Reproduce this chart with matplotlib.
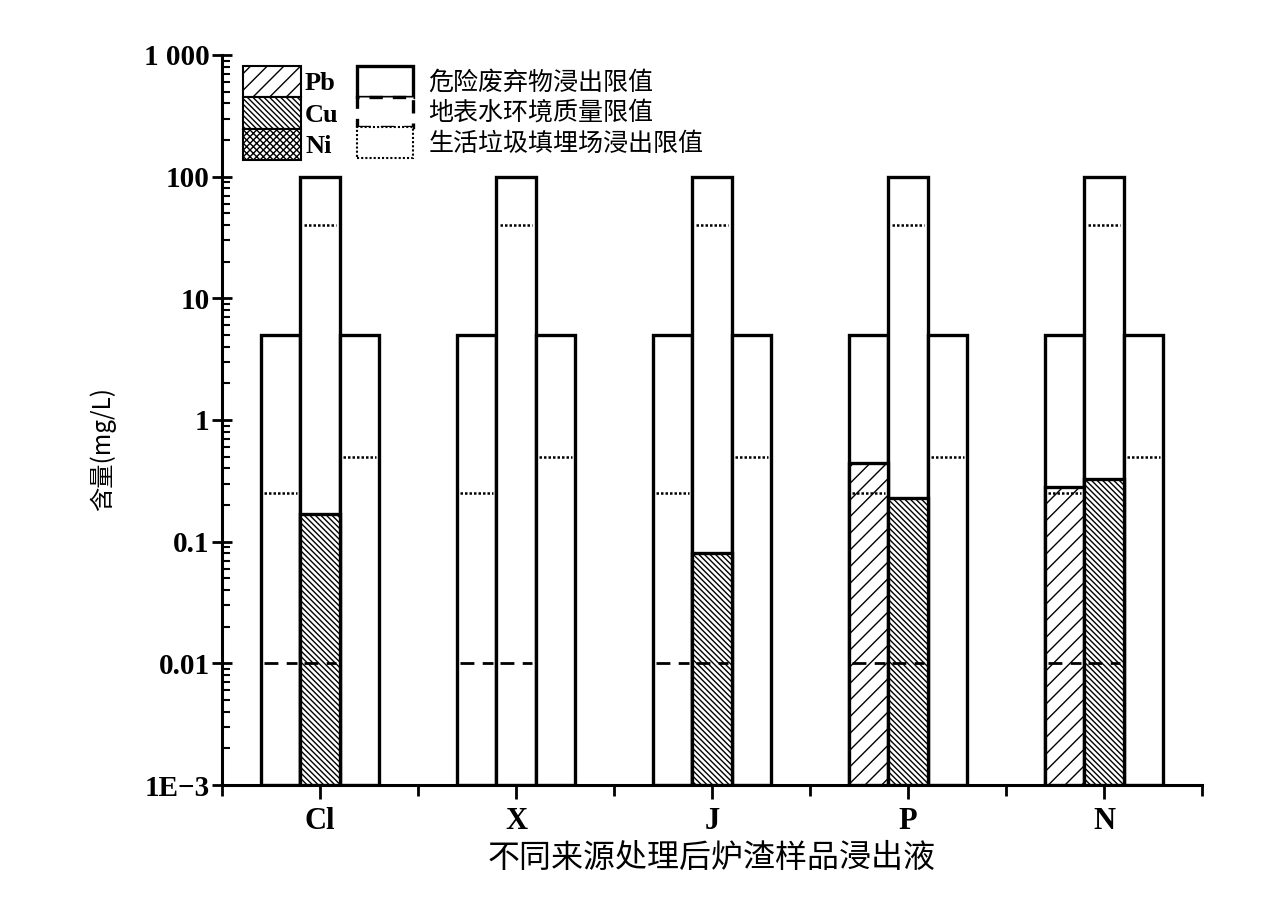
import numpy as np
import matplotlib
matplotlib.use("Agg")
import matplotlib.pyplot as plt
from matplotlib.patches import Patch
from matplotlib.ticker import FixedLocator, FixedFormatter, LogLocator, NullFormatter

# Leachate samples and measured heavy-metal concentrations (mg/L); 0 = not detected
samples = ["Cl", "X", "J", "P", "N"]
metals = ["Pb", "Cu", "Ni"]
pb_values = [0, 0, 0, 0.44, 0.28]
cu_values = [0.17, 0, 0.08, 0.23, 0.33]
ni_values = [0, 0, 0, 0, 0]

# Regulatory limits per metal (Pb, Cu, Ni); None = no limit drawn
hazard_limits = [5, 100, 5]          # 危险废弃物浸出限值
surface_limits = [0.01, 0.01, None]  # 地表水环境质量限值
landfill_limits = [0.25, 40, 0.5]    # 生活垃圾填埋场浸出限值

hatches = ["//", "\\\\\\\\\\\\", "xxxxx"]

y_ticks = [1e-3, 1e-2, 1e-1, 1, 10, 100, 1000]
y_tick_labels = ["1E\u22123", "0.01", "0.1", "1", "10", "100", "1 000"]

plt.rcParams["hatch.linewidth"] = 1.0
cjk = ["Noto Sans CJK SC", "DejaVu Sans"]

fig = plt.figure(figsize=(12.81, 9.01), dpi=100)
ax = fig.add_axes([222 / 1281, 1 - 785 / 901, 980 / 1281, 730 / 901])

x = np.arange(1, len(samples) + 1)
width = 0.2
offsets = [-width, 0, width]
base = 1e-3
values = [pb_values, cu_values, ni_values]

for j in range(3):
    xpos = x + offsets[j]
    # limit outline bars
    ax.bar(xpos, [hazard_limits[j] - base] * len(x), width=width, bottom=base,
           facecolor="white", edgecolor="black", linewidth=2.4, zorder=2)
for j in range(3):
    xpos = x + offsets[j]
    vals = np.array(values[j], dtype=float)
    mask = vals > 0
    if mask.any():
        ax.bar(xpos[mask], vals[mask] - base, width=width, bottom=base,
               facecolor="white", edgecolor="black", hatch=hatches[j],
               linewidth=2.4, zorder=3)
for j in range(3):
    xpos = x + offsets[j]
    half = width * 0.42
    if surface_limits[j] is not None:
        ax.hlines([surface_limits[j]] * len(x), xpos - half, xpos + half,
                  colors="black", linestyles=(0, (5, 3)), linewidth=2.0, zorder=4)
    ax.hlines([landfill_limits[j]] * len(x), xpos - half, xpos + half,
              colors="black", linestyles=(0, (1, 0.8)), linewidth=1.8, zorder=4)

ax.set_yscale("log")
ax.set_ylim(1e-3, 1000)
ax.set_xlim(0.5, 5.5)

ax.yaxis.set_major_locator(FixedLocator(y_ticks))
ax.yaxis.set_major_formatter(FixedFormatter(y_tick_labels))
ax.yaxis.set_minor_locator(LogLocator(base=10, subs=np.arange(2, 10), numticks=20))
ax.yaxis.set_minor_formatter(NullFormatter())

ax.set_xticks(x)
ax.set_xticklabels(samples)
ax.set_xticks(np.arange(0.5, 6.0, 1.0), minor=True)

for s in ["top", "right"]:
    ax.spines[s].set_visible(False)
for s in ["left", "bottom"]:
    ax.spines[s].set_linewidth(2.2)

ax.tick_params(axis="y", which="major", direction="inout", length=14, width=2, pad=2)
ax.tick_params(axis="y", which="minor", direction="in", length=6, width=1.5)
ax.tick_params(axis="x", which="major", direction="out", length=10, width=2, pad=6)
ax.tick_params(axis="x", which="minor", direction="out", length=8, width=2)

for lab in ax.get_yticklabels():
    lab.set_fontfamily("Liberation Serif")
    lab.set_fontweight("bold")
    lab.set_fontsize(21)
for lab in ax.get_xticklabels():
    lab.set_fontfamily("Liberation Serif")
    lab.set_fontweight("bold")
    lab.set_fontsize(22)

ax.set_xlabel("不同来源处理后炉渣样品浸出液", family=cjk, fontsize=23, labelpad=4)
ax.set_ylabel("含量(mg/L)", family=cjk, fontsize=17.5)
ax.yaxis.set_label_coords(-0.108, 0.46)

# Metal hatch legend
metal_handles = [Patch(facecolor="white", edgecolor="black", hatch=h, linewidth=1.5)
                 for h in hatches]
leg1 = fig.legend(metal_handles, metals, loc="upper left",
                  bbox_to_anchor=(243 / 1281, 1 - 66 / 901),
                  frameon=False, borderpad=0, borderaxespad=0,
                  handlelength=2.2, handleheight=1.45, labelspacing=0.0,
                  handletextpad=0.15, prop=dict(family="Liberation Serif",
                                                weight="bold", size=19))

# Limit outline legend
limit_labels = ["危险废弃物浸出限值", "地表水环境质量限值", "生活垃圾填埋场浸出限值"]
limit_handles = [
    Patch(facecolor="white", edgecolor="black", linewidth=2.4, linestyle="-"),
    Patch(facecolor="white", edgecolor="black", linewidth=2.4, linestyle=(0, (4, 3))),
    Patch(facecolor="white", edgecolor="black", linewidth=1.5, linestyle=(0, (1, 1))),
]
leg2 = fig.legend(limit_handles, limit_labels, loc="upper left",
                  bbox_to_anchor=(357 / 1281, 1 - 66 / 901),
                  frameon=False, borderpad=0, borderaxespad=0,
                  handlelength=2.25, handleheight=1.5, labelspacing=0.0,
                  handletextpad=0.6, prop=dict(family="Noto Sans CJK SC", size=18))

fig.savefig("out.png", dpi=100, facecolor="white")
